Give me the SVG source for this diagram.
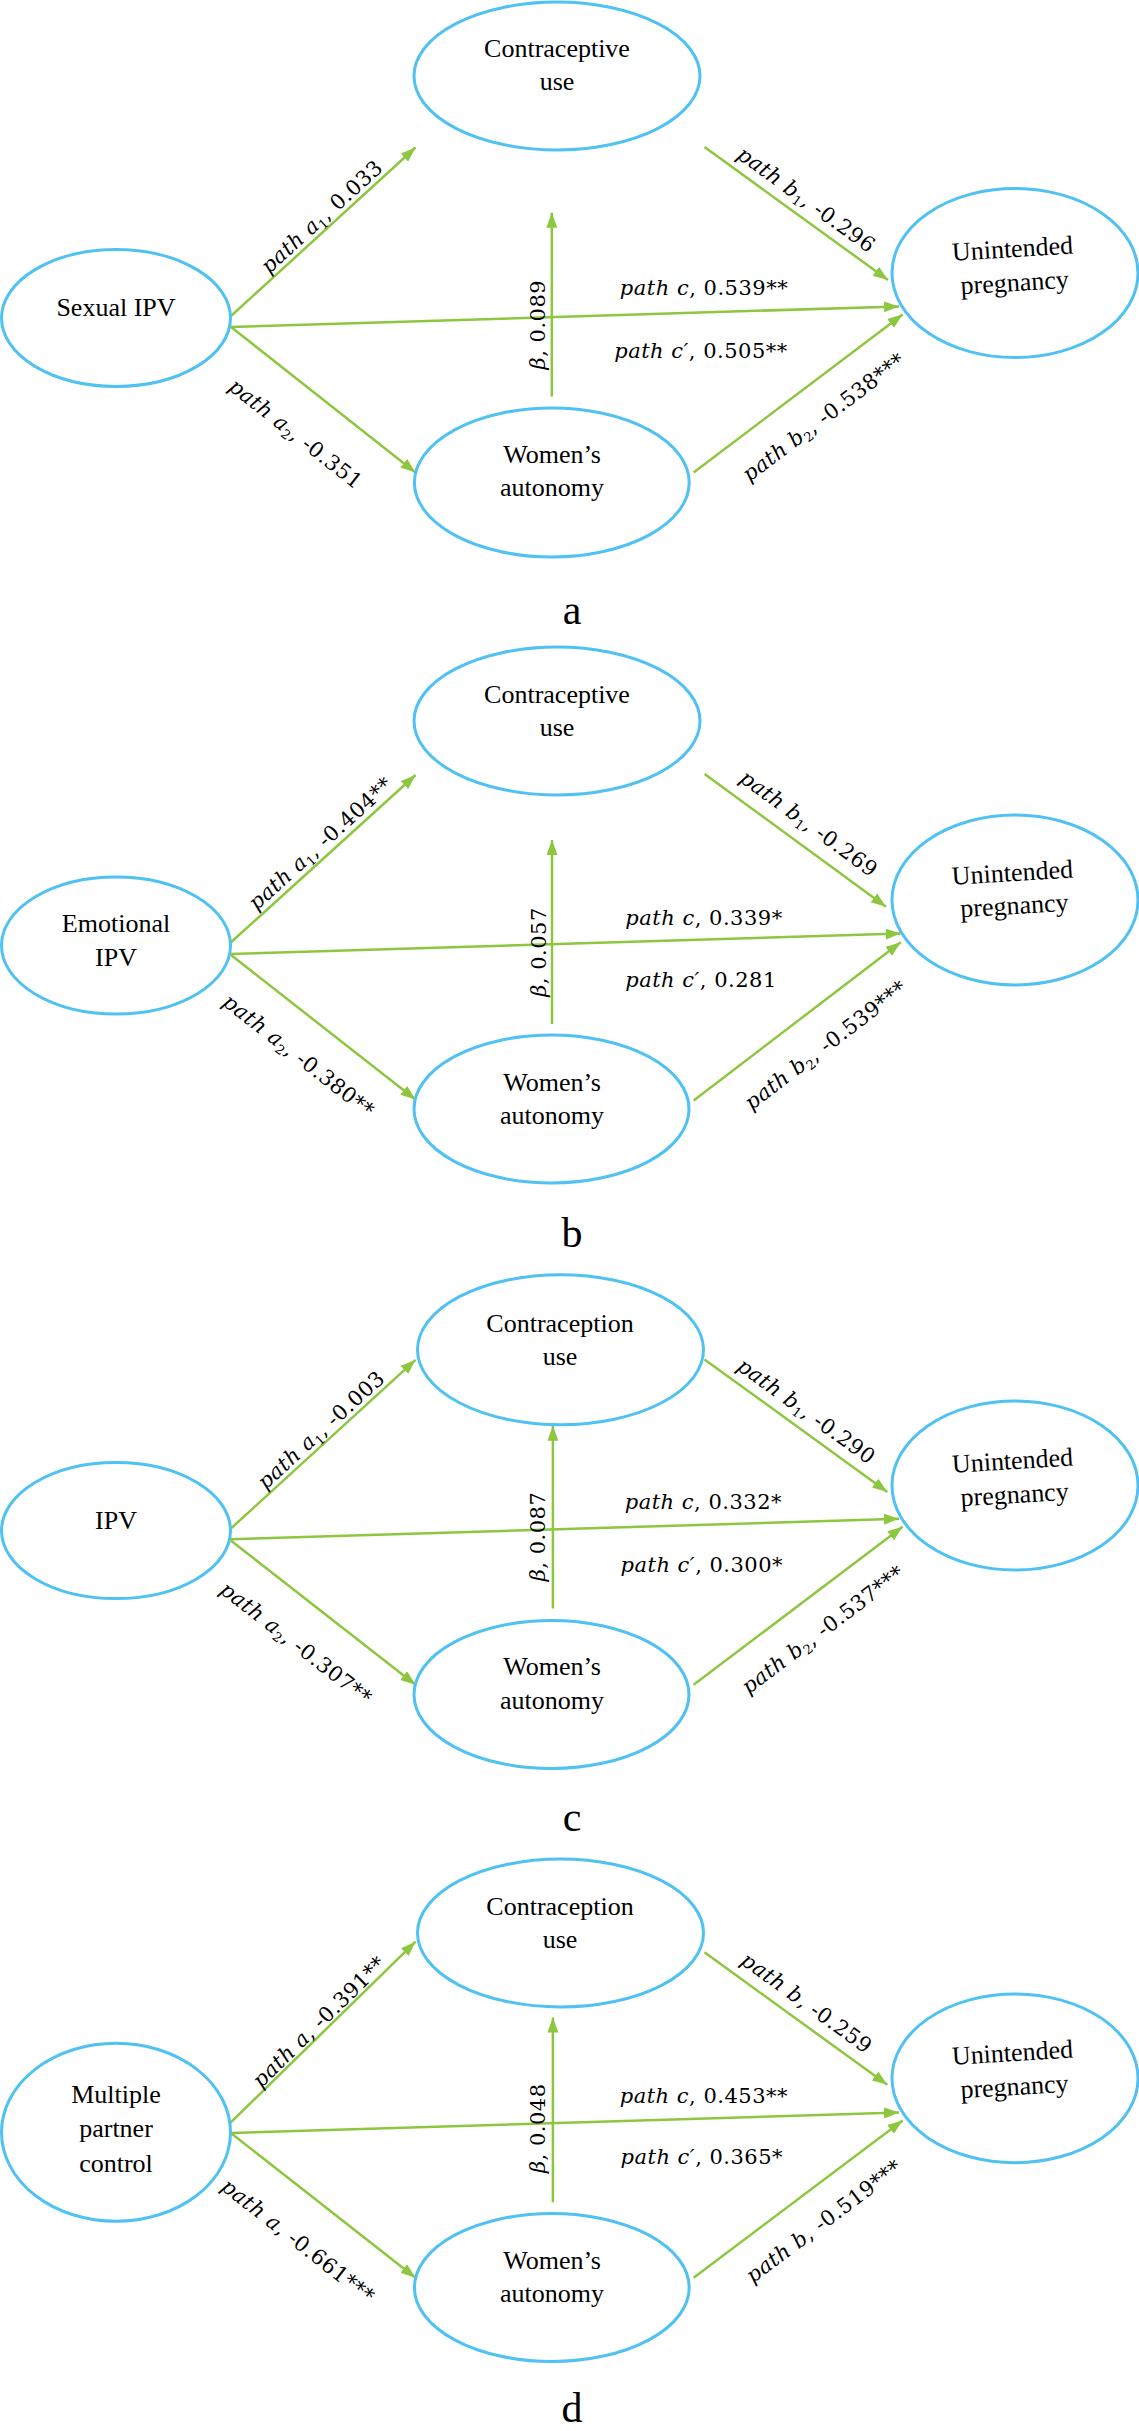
<svg xmlns="http://www.w3.org/2000/svg" width="1139" height="2431" viewBox="0 0 1139 2431">
<defs>
<marker id="ah" markerUnits="userSpaceOnUse" markerWidth="16" markerHeight="12" refX="15" refY="5.5" orient="auto">
<path d="M0,0 L15,5.5 L0,11 z" fill="#8DC63F"/>
</marker>
<style>
.node ellipse{fill:#fff;stroke:#4FC1F2;stroke-width:3}
.nt{font-family:"Liberation Serif","Times New Roman",serif;font-size:26px;fill:#000;text-anchor:middle}
.edge line{stroke:#8DC63F;stroke-width:2.5;marker-end:url(#ah)}
.lbl{font-family:"DejaVu Serif",serif;font-size:21px;letter-spacing:0.5px;fill:#000;text-anchor:middle}
.it{font-style:italic}
.sub{font-size:13px;font-style:normal}
.pl{font-family:"Liberation Serif","Times New Roman",serif;font-size:42px;fill:#000;text-anchor:middle}
</style>
</defs>
<rect width="1139" height="2431" fill="#fff"/>

<!-- ================= Panel a ================= -->
<g id="panel-a">
<g id="connectors-a" class="edge">
<line x1="231" y1="316" x2="415.5" y2="147.5"/>
<line x1="231" y1="327" x2="415.5" y2="472.5"/>
<line x1="231" y1="327" x2="899" y2="306.4"/>
<line x1="551.8" y1="396.6" x2="551.8" y2="212.7"/>
<line x1="704.5" y1="147" x2="888" y2="280"/>
<line x1="693.6" y1="472.5" x2="902.6" y2="314.4"/>
</g>
<g id="a-contraceptive" class="node"><ellipse cx="557" cy="76" rx="143" ry="74"/><text class="nt" x="557" y="57">Contraceptive</text><text class="nt" x="557" y="90">use</text></g>
<g id="a-sexual-ipv" class="node"><ellipse cx="116" cy="318" rx="114.5" ry="68.4"/><text class="nt" x="116" y="316">Sexual IPV</text></g>
<g id="a-womens-autonomy" class="node"><ellipse cx="551.8" cy="482.5" rx="137.4" ry="74.5"/><text class="nt" x="552" y="463">Women’s</text><text class="nt" x="552" y="496">autonomy</text></g>
<g id="a-unintended" class="node"><ellipse cx="1015" cy="273" rx="123" ry="84.6"/><g transform="rotate(-3.5 1015 273)"><text class="nt" x="1014" y="257">Unintended</text><text class="nt" x="1014" y="291">pregnancy</text></g></g>
<g id="labels-a">
<text class="lbl" transform="translate(326.6,221.9) rotate(-42.4)"><tspan class="it">path a</tspan><tspan class="sub" dy="4">1</tspan><tspan dy="-4">, 0.033</tspan></text>
<text class="lbl" transform="translate(291.3,439.5) rotate(38.3)"><tspan class="it">path a</tspan><tspan class="sub" dy="4">2</tspan><tspan dy="-4">, -0.351</tspan></text>
<text class="lbl" x="704" y="294.6"><tspan class="it">path c</tspan>, 0.539**</text>
<text class="lbl" x="701" y="357.8"><tspan class="it">path c′</tspan>, 0.505**</text>
<text class="lbl" transform="translate(545,324.6) rotate(-90)"><tspan class="it">β</tspan>, 0.089</text>
<text class="lbl" transform="translate(802.2,205.4) rotate(35.9)"><tspan class="it">path b</tspan><tspan class="sub" dy="4">1</tspan><tspan dy="-4">, -0.296</tspan></text>
<text class="lbl" transform="translate(828,422.8) rotate(-37.1)"><tspan class="it">path b</tspan><tspan class="sub" dy="4">2</tspan><tspan dy="-4">, -0.538***</tspan></text>
</g>
<text class="pl" x="572" y="624">a</text>
</g>

<!-- ================= Panel b ================= -->
<g id="panel-b">
<g id="connectors-b" class="edge">
<line x1="231" y1="942.3" x2="415.5" y2="775"/>
<line x1="231" y1="955" x2="415.5" y2="1099.6"/>
<line x1="231" y1="954" x2="900.7" y2="933.6"/>
<line x1="552" y1="1024" x2="552" y2="840"/>
<line x1="704.6" y1="774" x2="886" y2="906.7"/>
<line x1="693.7" y1="1100.4" x2="900.7" y2="942.3"/>
</g>
<g id="b-contraceptive" class="node"><ellipse cx="557" cy="721" rx="143" ry="74"/><text class="nt" x="557" y="703">Contraceptive</text><text class="nt" x="557" y="736">use</text></g>
<g id="b-emotional-ipv" class="node"><ellipse cx="116" cy="945.5" rx="114.5" ry="68.5"/><text class="nt" x="116" y="932">Emotional</text><text class="nt" x="116" y="966">IPV</text></g>
<g id="b-womens-autonomy" class="node"><ellipse cx="551.5" cy="1109" rx="137.5" ry="74"/><text class="nt" x="552" y="1090.5">Women’s</text><text class="nt" x="552" y="1124">autonomy</text></g>
<g id="b-unintended" class="node"><ellipse cx="1015" cy="900" rx="123" ry="85"/><g transform="rotate(-3.5 1015 900)"><text class="nt" x="1014" y="881">Unintended</text><text class="nt" x="1014" y="914">pregnancy</text></g></g>
<g id="labels-b">
<text class="lbl" transform="translate(325.3,848.7) rotate(-42.2)"><tspan class="it">path a</tspan><tspan class="sub" dy="4">1</tspan><tspan dy="-4">, -0.404**</tspan></text>
<text class="lbl" transform="translate(294.2,1061.5) rotate(38.1)"><tspan class="it">path a</tspan><tspan class="sub" dy="4">2</tspan><tspan dy="-4">, -0.380**</tspan></text>
<text class="lbl" x="704" y="924.5"><tspan class="it">path c</tspan>, 0.339*</text>
<text class="lbl" x="701" y="987"><tspan class="it">path c′</tspan>, 0.281</text>
<text class="lbl" transform="translate(546,952) rotate(-90)"><tspan class="it">β</tspan>, 0.057</text>
<text class="lbl" transform="translate(804.5,829.3) rotate(36.2)"><tspan class="it">path b</tspan><tspan class="sub" dy="4">1</tspan><tspan dy="-4">, -0.269</tspan></text>
<text class="lbl" transform="translate(830,1050.8) rotate(-37.4)"><tspan class="it">path b</tspan><tspan class="sub" dy="4">2</tspan><tspan dy="-4">, -0.539***</tspan></text>
</g>
<text class="pl" x="572" y="1247">b</text>
</g>

<!-- ================= Panel c ================= -->
<g id="panel-c">
<g id="connectors-c" class="edge">
<line x1="230.8" y1="1528.6" x2="415.5" y2="1359.8"/>
<line x1="230.8" y1="1540.5" x2="415.5" y2="1684.8"/>
<line x1="230.8" y1="1539.3" x2="899" y2="1518.8"/>
<line x1="552.9" y1="1608.5" x2="552.9" y2="1425.8"/>
<line x1="704.5" y1="1359.4" x2="887.3" y2="1491.9"/>
<line x1="693.6" y1="1684.8" x2="902.6" y2="1526.7"/>
</g>
<g id="c-contraception" class="node"><ellipse cx="560.5" cy="1349.7" rx="143" ry="75"/><text class="nt" x="560" y="1331.7">Contraception</text><text class="nt" x="560" y="1364.5">use</text></g>
<g id="c-ipv" class="node"><ellipse cx="116" cy="1530.6" rx="114.5" ry="68"/><text class="nt" x="116" y="1528.6">IPV</text></g>
<g id="c-womens-autonomy" class="node"><ellipse cx="551.5" cy="1694.5" rx="137.5" ry="74"/><text class="nt" x="552" y="1675">Women’s</text><text class="nt" x="552" y="1708.6">autonomy</text></g>
<g id="c-unintended" class="node"><ellipse cx="1015" cy="1485.5" rx="123" ry="84.6"/><g transform="rotate(-3.5 1015 1485.5)"><text class="nt" x="1014" y="1469">Unintended</text><text class="nt" x="1014" y="1503">pregnancy</text></g></g>
<g id="labels-c">
<text class="lbl" transform="translate(325.8,1435.2) rotate(-42.4)"><tspan class="it">path a</tspan><tspan class="sub" dy="4">1</tspan><tspan dy="-4">, -0.003</tspan></text>
<text class="lbl" transform="translate(291.6,1649) rotate(38)"><tspan class="it">path a</tspan><tspan class="sub" dy="4">2</tspan><tspan dy="-4">, -0.307**</tspan></text>
<text class="lbl" x="703.4" y="1508.5"><tspan class="it">path c</tspan>, 0.332*</text>
<text class="lbl" x="701.8" y="1572"><tspan class="it">path c′</tspan>, 0.300*</text>
<text class="lbl" transform="translate(545.3,1536.5) rotate(-90)"><tspan class="it">β</tspan>, 0.087</text>
<text class="lbl" transform="translate(802.1,1416.9) rotate(35.9)"><tspan class="it">path b</tspan><tspan class="sub" dy="4">1</tspan><tspan dy="-4">, -0.290</tspan></text>
<text class="lbl" transform="translate(827.2,1635.3) rotate(-37.1)"><tspan class="it">path b</tspan><tspan class="sub" dy="4">2</tspan><tspan dy="-4">, -0.537***</tspan></text>
</g>
<text class="pl" x="572" y="1831">c</text>
</g>

<!-- ================= Panel d ================= -->
<g id="panel-d">
<g id="connectors-d" class="edge">
<line x1="230.8" y1="2122.4" x2="415.5" y2="1941.7"/>
<line x1="230.8" y1="2133" x2="415.5" y2="2277.8"/>
<line x1="230.8" y1="2133" x2="899" y2="2112.5"/>
<line x1="552.9" y1="2202.3" x2="552.9" y2="2017.6"/>
<line x1="704.5" y1="1952.3" x2="887.3" y2="2084.8"/>
<line x1="693.6" y1="2277.8" x2="902.6" y2="2120.4"/>
</g>
<g id="d-contraception" class="node"><ellipse cx="560.5" cy="1933" rx="143" ry="74"/><text class="nt" x="560" y="1914.8">Contraception</text><text class="nt" x="560" y="1948.4">use</text></g>
<g id="d-multiple-partner-control" class="node"><ellipse cx="116" cy="2132.3" rx="114.5" ry="89"/><text class="nt" x="116" y="2102.6">Multiple</text><text class="nt" x="116" y="2137.4">partner</text><text class="nt" x="116" y="2171.8">control</text></g>
<g id="d-womens-autonomy" class="node"><ellipse cx="551.8" cy="2287.5" rx="137.4" ry="74"/><text class="nt" x="552" y="2268.7">Women’s</text><text class="nt" x="552" y="2302.3">autonomy</text></g>
<g id="d-unintended" class="node"><ellipse cx="1015" cy="2078.3" rx="123" ry="84.4"/><g transform="rotate(-3.5 1015 2078.3)"><text class="nt" x="1014" y="2061">Unintended</text><text class="nt" x="1014" y="2095">pregnancy</text></g></g>
<g id="labels-d">
<text class="lbl" transform="translate(324.1,2026.9) rotate(-44.4)"><tspan class="it">path a</tspan>, -0.391**</text>
<text class="lbl" transform="translate(293.5,2246.7) rotate(38.1)"><tspan class="it">path a</tspan>, -0.661***</text>
<text class="lbl" x="703.9" y="2102.6"><tspan class="it">path c</tspan>, 0.453**</text>
<text class="lbl" x="701.8" y="2163.9"><tspan class="it">path c′</tspan>, 0.365*</text>
<text class="lbl" transform="translate(545.3,2128.3) rotate(-90)"><tspan class="it">β</tspan>, 0.048</text>
<text class="lbl" transform="translate(802.4,2008.7) rotate(35.9)"><tspan class="it">path b</tspan>, -0.259</text>
<text class="lbl" transform="translate(828.1,2227) rotate(-37)"><tspan class="it">path b</tspan>, -0.519***</text>
</g>
<text class="pl" x="572" y="2422">d</text>
</g>
</svg>
